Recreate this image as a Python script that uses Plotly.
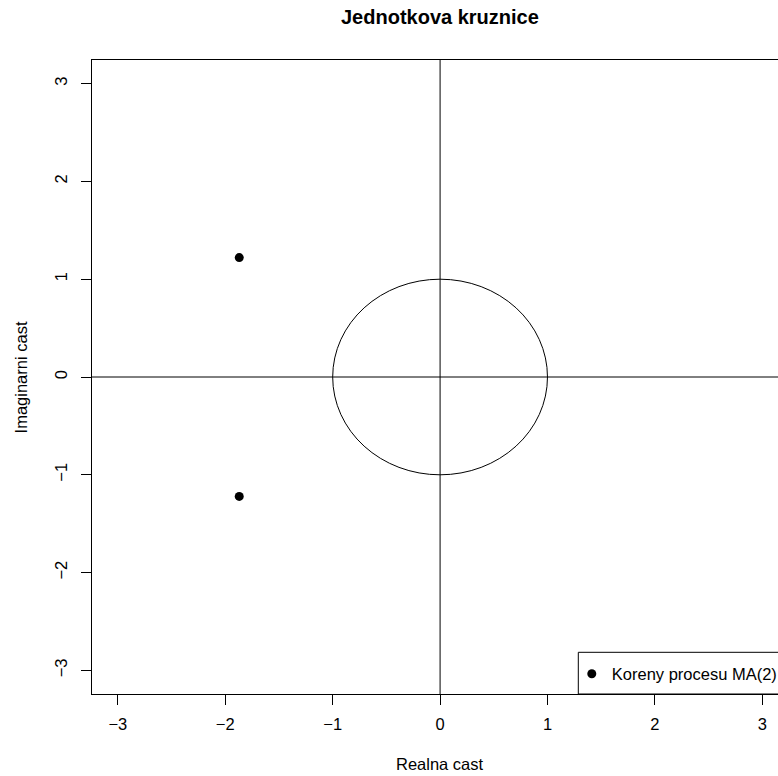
import plotly.graph_objects as go

# Roots of the MA(2) characteristic polynomial (complex conjugate pair)
root_re = [-1.87, -1.87]
root_im = [1.221, -1.221]

tick_vals = [-3, -2, -1, 0, 1, 2, 3]
tick_text = ["\u22123", "\u22122", "\u22121", "0", "1", "2", "3"]

title_text = "Jednotkova kruznice"
x_label = "Realna cast"
y_label = "Imaginarni cast"
legend_label = "Koreny procesu MA(2)"

FONT = "Liberation Sans, Arial, Helvetica, sans-serif"
BASE = 16.5

W, H = 778, 776
L, R, T, B = 92, 0, 60, 82
plot_w = W - L - R
plot_h = H - T - B

x_lo = -3.241
x_unit = 107.4
x_range = [x_lo, x_lo + plot_w / x_unit]
y_range = [-3.241, 3.241]


def px_to_paper_x(px):
    return (px - L) / plot_w


def px_to_paper_y(py):
    return (H - B - py) / plot_h


fig = go.Figure()

fig.add_trace(go.Scatter(
    x=root_re, y=root_im, mode="markers", name=legend_label,
    marker=dict(color="black", size=9, line=dict(width=0)),
    showlegend=True,
))

shapes = [
    # unit circle
    dict(type="circle", xref="x", yref="y", x0=-1, x1=1, y0=-1, y1=1,
         line=dict(color="black", width=1)),
    # reference lines through the origin
    dict(type="line", xref="x", yref="paper", x0=0, x1=0, y0=0, y1=1,
         line=dict(color="black", width=1)),
    dict(type="line", xref="paper", yref="y", x0=0, x1=1, y0=0, y1=0,
         line=dict(color="black", width=1)),
    # legend frame
    dict(type="rect", xref="paper", yref="paper",
         x0=px_to_paper_x(578.3), x1=1.2, y0=0, y1=px_to_paper_y(652.3),
         line=dict(color="black", width=1), fillcolor="white", layer="above"),
]

annotations = [
    dict(text="<b>%s</b>" % title_text, xref="x", yref="paper", x=0,
         y=px_to_paper_y(17), xanchor="center", yanchor="middle",
         showarrow=False, font=dict(family=FONT, size=20, color="black")),
    dict(text=x_label, xref="x", yref="paper", x=0, y=px_to_paper_y(764),
         xanchor="center", yanchor="middle", showarrow=False,
         font=dict(family=FONT, size=BASE, color="black")),
    dict(text=y_label, xref="paper", yref="y", x=px_to_paper_x(21.4), y=0,
         xanchor="center", yanchor="middle", textangle=-90, showarrow=False,
         font=dict(family=FONT, size=BASE, color="black")),
]

axis_common = dict(
    showgrid=False, zeroline=False, showline=True, linecolor="black",
    linewidth=1, ticks="outside", ticklen=10, tickwidth=1, tickcolor="black",
    tickvals=tick_vals, ticktext=tick_text,
    tickfont=dict(family=FONT, size=BASE, color="black"),
    fixedrange=True,
)

fig.update_layout(
    width=W, height=H,
    margin=dict(l=L, r=R, t=T, b=B, pad=0, autoexpand=False),
    paper_bgcolor="white", plot_bgcolor="white",
    xaxis=dict(range=x_range, mirror=True, ticklabelstandoff=5, **axis_common),
    yaxis=dict(range=y_range, mirror=False, tickangle=-90,
               ticklabelstandoff=7, **axis_common),
    shapes=shapes,
    annotations=annotations,
    showlegend=True,
    legend=dict(
        x=px_to_paper_x(571.8), y=px_to_paper_y(674),
        xanchor="left", yanchor="middle",
        bgcolor="rgba(0,0,0,0)", borderwidth=0,
        font=dict(family=FONT, size=BASE, color="black"),
    ),
    font=dict(family=FONT, size=BASE, color="black"),
)

fig.write_html("out.html")
